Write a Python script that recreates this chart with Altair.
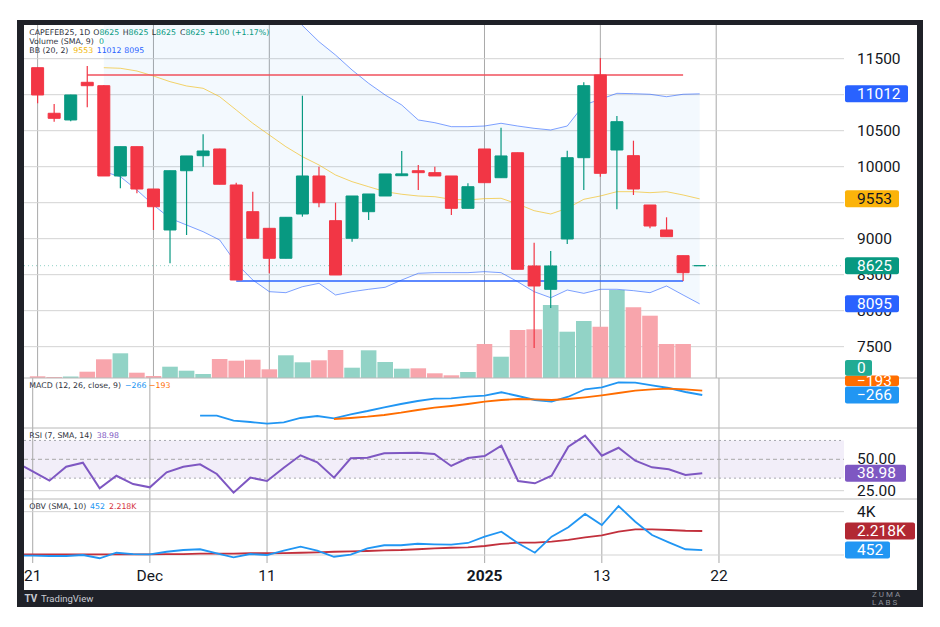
import altair as alt
import pandas as pd

# ---------------- data ----------------
bars = list(range(41))
opens = [11375, 10742, 10649, 11172, 11125, 9871, 10278, 9690, 9121, 9944, 10153, 10246, 9746, 9375, 9144,
         8728, 9343, 9871, 9250, 9006, 9375, 9593, 9875, 9944, 9917, 9871, 9422, 10246, 9847, 10194,
         8621, 8297, 8996, 10125, 11274, 10232, 10153, 9468, 9121, 8764, 8625]
highs = [11380, 10871, 11000, 11399, 11130, 10278, 10278, 9690, 9944, 10149, 10450, 10250, 9778, 9653, 9144,
         9297, 10986, 10000, 9500, 9593, 9621, 9899, 10218, 10024, 10000, 9871, 9769, 10246, 10542, 10194,
         8944, 8829, 10222, 11172, 11510, 10704, 10361, 9468, 9297, 8764, 8625]
lows = [10880, 10625, 10630, 10825, 9871, 9700, 9631, 9121, 8658, 9051, 10000, 9756, 8426, 9006, 8519,
        8728, 9306, 9436, 8496, 8958, 9260, 9593, 9871, 9676, 9871, 9329, 9422, 9778, 9847, 8575,
        7482, 8037, 8926, 9676, 9861, 9408, 9607, 9144, 9028, 8412, 8625]
closes = [10996, 10672, 10996, 11125, 9871, 10278, 9690, 9444, 9944, 10149, 10218, 9756, 8426, 9006, 8728,
          9297, 9871, 9500, 8496, 9593, 9621, 9899, 9900, 9917, 9871, 9422, 9722, 9778, 10149, 8575,
          8343, 8621, 10125, 11125, 9908, 10625, 9690, 9176, 9028, 8528, 8625]
volumes = [1.7, 1, 1.5, 6.3, 18.7, 24.7, 5.3, 2, 11.3, 7.3, 4, 19, 17.3, 18.3, 8.7, 22.7, 15.7, 17.7, 28, 10.3,
           27.7, 16, 9.3, 9.7, 4.7, 2.7, 6, 34, 21.3, 48, 48.7, 73, 46.3, 57, 51.3, 88, 70.7, 62.3, 34, 34, 0]

bb_bars = list(range(4, 41))
bb_basis = [11375, 11367, 11329, 11260, 11181, 11121, 11089, 10972, 10788, 10603, 10440, 10278, 10139, 10024,
            9885, 9792, 9722, 9653, 9617, 9593, 9583, 9547, 9538, 9556, 9561, 9482, 9389, 9343, 9422, 9547,
            9593, 9653, 9653, 9639, 9653, 9607, 9553]
bb_upper = [12819, 12873, 12982, 13052, 13079, 13052, 13081, 12962, 12918, 12780, 12616, 12306, 11960, 11736,
            11551, 11343, 11158, 10996, 10857, 10649, 10611, 10556, 10556, 10565, 10603, 10565, 10533, 10510,
            10565, 10857, 10936, 11019, 11014, 11006, 10972, 11006, 11012]
bb_lower = [9931, 9861, 9676, 9468, 9283, 9190, 9097, 8982, 8658, 8426, 8264, 8250, 8333, 8380, 8218, 8264,
            8297, 8325, 8426, 8519, 8528, 8528, 8528, 8542, 8528, 8403, 8264, 8180, 8287, 8241, 8297, 8297,
            8278, 8250, 8343, 8218, 8095]

macd_bars = list(range(10, 41))
macd_vals = [-618, -618, -703, -725, -754, -730, -657, -623, -662, -594, -538, -475, -419, -368, -329, -322,
             -295, -278, -220, -283, -351, -380, -295, -169, -135, -50, -57, -101, -147, -215, -266]
signal_bars = list(range(18, 41))
signal_vals = [-674, -657, -635, -606, -567, -521, -482, -453, -419, -380, -351, -334, -339, -351, -334, -305,
               -271, -232, -193, -169, -159, -169, -193]

osc_bars = list(range(-1, 41))
rsi_vals = [47.5, 40.4, 33.0, 44.1, 47.3, 26.9, 36.9, 30.3, 27.7, 39.6, 44.1, 46.0, 38.3, 23.4, 35.4, 32.7,
            43.3, 53.2, 47.6, 35.4, 50.8, 51.3, 54.8, 55.0, 55.3, 54.2, 44.7, 51.0, 52.6, 60.8, 32.7, 30.9,
            36.9, 60.0, 68.8, 52.9, 59.2, 48.9, 43.6, 42.0, 37.5, 38.98]
obv_vals = [-60, -60, -90, -90, 0, -300, 210, 90, 60, 300, 460, 530, 160, -210, 90, 0, 400, 770, 400, -160,
            30, 620, 900, 900, 1040, 990, 950, 1110, 1690, 2150, 1080, 210, 1690, 2560, 3790, 2770, 4520,
            3070, 1850, 1170, 530, 452]
obv_sma = [60, 60, 60, 60, 60, 60, 60, 60, 60, 90, 90, 120, 120, 120, 160, 160, 180, 210, 250, 300, 340, 370,
           430, 460, 530, 620, 670, 710, 830, 1020, 1140, 1140, 1230, 1390, 1630, 1820, 2150, 2370, 2370,
           2310, 2240, 2218]

price_grid = [7500, 8000, 8500, 9000, 9500, 10000, 10500, 11000, 11500]
price_labels = [7500, 8000, 8500, 9000, 10000, 10500, 11500]   # 9500 / 11000 sit under tags
time_ticks = [0, 7, 14, 27, 34, 41]
time_labels = ["21", "Dec", "11", "2025", "13", "22"]
resistance = {"x1": 3, "x2": 39, "level": 11274}
support = {"x1": 12, "x2": 39, "level": 8412}
last_price = 8625

# ---------------- layout / style ----------------
W = 893
GRID_R = 820
H_P, H_M, H_R, H_O, H_A = 353, 50, 71, 66, 25
PRICE_DOM = [7065, 11968]
VOL_DOM = [0, 353]
MACD_DOM = [-827, 23]
RSI_DOM = [18.39, 74.92]
OBV_DOM = [-923, 5171]
FONT = "Roboto"
LFONT = "DejaVu Sans"
LSIZE = 7.8
DARK = "#131722"
LEG = "#2f333d"
GREEN = "#089981"
RED = "#f23645"
GRID = "#d3d3d3"
VGRID = "#a9a9a9"
SEP = "#b8b8b8"
FRAME = "#1f2128"
DUMMY = pd.DataFrame({"d": [0]})

xs = alt.Scale(domain=[-0.52, 52.83], nice=False, zero=False)


def X(f):
    return alt.X(f"{f}:Q", scale=xs, axis=None)


def Y(f, dom):
    return alt.Y(f"{f}:Q", scale=alt.Scale(domain=dom, nice=False, zero=False), axis=None)


def txt(t, x, y, color, size=LSIZE, weight="normal", align="left", font=LFONT):
    return alt.Chart(DUMMY).mark_text(text=t, align=align, baseline="middle", fontSize=size,
                                      fontWeight=weight, color=color, font=font).encode(
        x=alt.value(x), y=alt.value(y))


def px_rule(y, x1, x2, color, width=1.0):
    return alt.Chart(DUMMY).mark_rule(color=color, strokeWidth=width).encode(
        x=alt.value(x1), x2=alt.value(x2), y=alt.value(y))


def vgrid(h):
    return alt.Chart(pd.DataFrame({"t": time_ticks})).mark_rule(color=VGRID, strokeWidth=1).encode(
        x=X("t"), y=alt.value(0), y2=alt.value(h))


def hgrid(vals, dom, color=GRID, dash=None):
    kw = dict(color=color, strokeWidth=1)
    if dash:
        kw["strokeDash"] = dash
    return alt.Chart(pd.DataFrame({"v": vals})).mark_rule(**kw).encode(
        y=Y("v", dom), x=alt.value(0), x2=alt.value(GRID_R))


def axis_labels(vals, texts, dom):
    df = pd.DataFrame({"v": vals, "t": texts})
    return alt.Chart(df).mark_text(align="left", baseline="middle", fontSize=15.5, color=DARK,
                                   font=FONT).encode(x=alt.value(833), y=Y("v", dom), text="t:N")


def tag(value, label, bg, fg, right, dom, h):
    half = 8.5 * (dom[1] - dom[0]) / h
    df = pd.DataFrame({"v": [value], "hi": [value + half], "lo": [value - half], "t": [label]})
    r = alt.Chart(df).mark_rect(color=bg, cornerRadius=2).encode(
        x=alt.value(821), x2=alt.value(right), y=Y("hi", dom), y2=alt.Y2("lo"))
    t = alt.Chart(df).mark_text(align="left", baseline="middle", fontSize=15.5, color=fg,
                                font=FONT).encode(x=alt.value(833), y=Y("v", dom), text="t:N")
    return [r, t]


def px_tag(y1, y2, label, bg, fg, right, ty):
    r = alt.Chart(DUMMY).mark_rect(color=bg, cornerRadius=2).encode(
        x=alt.value(821), x2=alt.value(right), y=alt.value(y1), y2=alt.value(y2))
    return [r, txt(label, 833, ty, fg, size=15.5, font=FONT)]


# ---------------- price pane ----------------
cdf = pd.DataFrame({"bar": bars, "open": opens, "high": highs, "low": lows, "close": closes,
                    "vol": volumes})
cdf["col"] = [GREEN if c >= o else RED for o, c in zip(opens, closes)]
cdf["vcol"] = ["#92d3c6" if c >= o else "#f8a5ac" for o, c in zip(opens, closes)]
bbdf = pd.DataFrame({"bar": bb_bars, "basis": bb_basis, "upper": bb_upper, "lower": bb_lower})
srdf = pd.DataFrame([dict(resistance, c="#f0505c"), dict(support, c="#2962ff")])

price_layers = [
    vgrid(H_P),
    hgrid(price_grid, PRICE_DOM),
    alt.Chart(bbdf).mark_area(color="#2196f3", opacity=0.055, clip=True).encode(
        x=X("bar"), y=Y("upper", PRICE_DOM), y2=alt.Y2("lower")),
    alt.Chart(cdf).mark_bar(size=15.6).encode(
        x=X("bar"), y=Y("vol", VOL_DOM), color=alt.Color("vcol:N", scale=None)),
    alt.Chart(bbdf).mark_line(color="#2962ff", opacity=0.6, strokeWidth=1, clip=True).encode(
        x=X("bar"), y=Y("upper", PRICE_DOM)),
    alt.Chart(bbdf).mark_line(color="#2962ff", opacity=0.6, strokeWidth=1, clip=True).encode(
        x=X("bar"), y=Y("lower", PRICE_DOM)),
    alt.Chart(bbdf).mark_line(color="#f2b705", opacity=0.6, strokeWidth=1, clip=True).encode(
        x=X("bar"), y=Y("basis", PRICE_DOM)),
    alt.Chart(pd.DataFrame({"v": [last_price]})).mark_rule(
        color=GREEN, opacity=0.45, strokeWidth=1, strokeDash=[1, 3]).encode(
        y=Y("v", PRICE_DOM), x=alt.value(0), x2=alt.value(GRID_R)),
    alt.Chart(srdf).mark_rule(strokeWidth=1.6).encode(
        x=X("x1"), x2=alt.X2("x2"), y=Y("level", PRICE_DOM), color=alt.Color("c:N", scale=None)),
    alt.Chart(cdf).mark_rule(strokeWidth=1.2).encode(
        x=X("bar"), y=Y("low", PRICE_DOM), y2=alt.Y2("high"), color=alt.Color("col:N", scale=None)),
    alt.Chart(cdf).mark_bar(size=12, strokeWidth=1).encode(
        x=X("bar"), y=Y("open", PRICE_DOM), y2=alt.Y2("close"),
        color=alt.Color("col:N", scale=None), stroke=alt.Stroke("col:N", scale=None)),
    axis_labels(price_labels, [str(v) for v in price_labels], PRICE_DOM),
]
price_layers += tag(11012, "11012", "#2962ff", "white", 884, PRICE_DOM, H_P)
price_layers += tag(9553, "9553", "#fbb30a", DARK, 875, PRICE_DOM, H_P)
price_layers += tag(8625, "8625", GREEN, "white", 875, PRICE_DOM, H_P)
price_layers += tag(8095, "8095", "#2962ff", "white", 875, PRICE_DOM, H_P)
price_layers += [
    txt("CAPEFEB25, 1D", 5.3, 8, LEG),
    txt("O", 69.3, 8, LEG), txt("8625", 75.4, 8, GREEN),
    txt("H", 98.7, 8, LEG), txt("8625", 104.6, 8, GREEN),
    txt("L", 127.7, 8, LEG), txt("8625", 132, 8, GREEN),
    txt("C", 156, 8, LEG), txt("8625", 161.4, 8, GREEN),
    txt("+100 (+1.17%)", 184, 8, GREEN),
    txt("Volume (SMA, 9)", 5.3, 16.7, LEG), txt("0", 75, 16.7, GREEN),
    txt("BB (20, 2)", 5.3, 25.7, LEG), txt("9553", 49.3, 25.7, "#f2b705"),
    txt("11012", 72.7, 25.7, "#2962ff"), txt("8095", 100.3, 25.7, "#2962ff"),
]
price = alt.layer(*price_layers).properties(width=W, height=H_P).resolve_scale(y="independent")

# ---------------- MACD pane ----------------
mdf = pd.DataFrame({"bar": macd_bars, "v": macd_vals})
sdf = pd.DataFrame({"bar": signal_bars, "v": signal_vals})
macd_layers = [
    vgrid(H_M),
    px_rule(0, 0, W, SEP),
    alt.Chart(mdf).mark_line(color="#2196f3", strokeWidth=1.8).encode(x=X("bar"), y=Y("v", MACD_DOM)),
    alt.Chart(sdf).mark_line(color="#ff6d00", strokeWidth=1.8).encode(x=X("bar"), y=Y("v", MACD_DOM)),
]
macd_layers += px_tag(-2.5, 8, "−193", "#ff6d00", "white", 875, 3)
macd_layers += px_tag(-18, -2.3, "0", "#22ab94", "white", 848, -10)
macd_layers += tag(-266, "−266", "#2196f3", "white", 875, MACD_DOM, H_M)
macd_layers += [txt("MACD (12, 26, close, 9)", 5.3, 8, LEG), txt("−266", 101, 8, "#2196f3"),
                txt("−193", 125, 8, "#ff6d00")]
macd = alt.layer(*macd_layers).properties(width=W, height=H_M)

# ---------------- RSI pane ----------------
rdf = pd.DataFrame({"bar": osc_bars, "v": rsi_vals})
rsi_layers = [
    alt.Chart(pd.DataFrame({"hi": [65], "lo": [35]})).mark_rect(color="#7e57c2", opacity=0.1).encode(
        y=Y("hi", RSI_DOM), y2=alt.Y2("lo"), x=alt.value(0), x2=alt.value(GRID_R)),
    vgrid(H_R),
    px_rule(0, 0, W, SEP),
    hgrid([65, 35], RSI_DOM, color="#a8a8b0", dash=[2, 3]),
    hgrid([50], RSI_DOM, color="#a8a8a8", dash=[4, 3]),
    hgrid([25], RSI_DOM),
    alt.Chart(rdf).mark_line(color="#7e57c2", strokeWidth=2, clip=True).encode(
        x=X("bar"), y=Y("v", RSI_DOM)),
    axis_labels([50, 25], ["50.00", "25.00"], RSI_DOM),
]
rsi_layers += tag(38.98, "38.98", "#7e57c2", "white", 882, RSI_DOM, H_R)
rsi_layers += [txt("RSI (7, SMA, 14)", 5.3, 8, LEG), txt("38.98", 72.7, 8, "#7e57c2")]
rsi = alt.layer(*rsi_layers).properties(width=W, height=H_R)

# ---------------- OBV pane ----------------
odf = pd.DataFrame({"bar": osc_bars, "obv": obv_vals, "sma": obv_sma})
obv_layers = [
    vgrid(H_O - 2),
    px_rule(0, 0, W, SEP),
    hgrid([0, 4000], OBV_DOM),
    alt.Chart(odf).mark_line(color="#c2303c", strokeWidth=1.8, clip=True).encode(
        x=X("bar"), y=Y("sma", OBV_DOM)),
    alt.Chart(odf).mark_line(color="#2196f3", strokeWidth=1.8, clip=True).encode(
        x=X("bar"), y=Y("obv", OBV_DOM)),
    axis_labels([4000], ["4K"], OBV_DOM),
]
obv_layers += tag(2218, "2.218K", "#b22833", "white", 891, OBV_DOM, H_O)
obv_layers += tag(452, "452", "#2196f3", "white", 866, OBV_DOM, H_O)
obv_layers += [txt("OBV (SMA, 10)", 5.3, 8.3, LEG), txt("452", 66, 8.3, "#2196f3"),
               txt("2.218K", 85, 8.3, "#d4313d")]
obv = alt.layer(*obv_layers).properties(width=W, height=H_O)

# ---------------- time axis + frame ----------------
tdf = pd.DataFrame({"t": time_ticks, "lab": time_labels})
tdf["bold"] = [lab.isdigit() and len(lab) == 4 for lab in time_labels]


def frame_rect(x1, x2, y1, y2):
    return alt.Chart(DUMMY).mark_rect(color=FRAME).encode(
        x=alt.value(x1), x2=alt.value(x2), y=alt.value(y1), y2=alt.value(y2))


axis_layers = [
    alt.Chart(tdf[~tdf["bold"]]).mark_text(fontSize=15.5, baseline="middle", color=DARK, font=FONT).encode(
        x=X("t"), y=alt.value(11), text="lab:N"),
    alt.Chart(tdf[tdf["bold"]]).mark_text(fontSize=15.5, baseline="middle", color=DARK, font=FONT,
                                          fontWeight="bold").encode(x=X("t"), y=alt.value(11), text="lab:N"),
    frame_rect(-7, 899, -545, -540),
    frame_rect(-7, 0, -545, 42),
    frame_rect(893, 899, -545, 42),
    frame_rect(-7, 899, 25, 42),
    txt("TV", 0.5, 33.5, "#c9ccd4", size=10, weight="bold", font=FONT),
    txt("TradingView", 17, 33.5, "#c9ccd4", size=9.5, font=FONT),
    txt("Z  U  M  A", 848, 29.5, "#8d9099", size=8, font=FONT),
    txt("L  A  B  S", 848, 37.5, "#8d9099", size=8, font=FONT),
]
axis_pane = alt.layer(*axis_layers).properties(width=W, height=H_A)

chart = alt.vconcat(price, macd, rsi, obv, axis_pane, spacing=0, bounds="flush").properties(
    padding={"left": 9, "top": 12, "right": 5, "bottom": 5}, background="white"
).configure_view(strokeWidth=0)

chart.save("out.html", embed_options={"renderer": "svg", "actions": False})
